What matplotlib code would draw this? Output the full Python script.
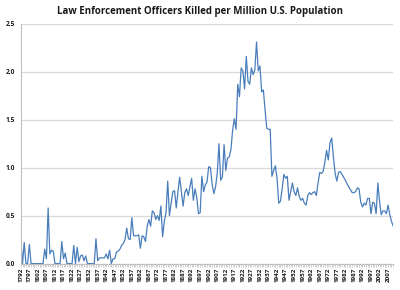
#!/usr/bin/env python3
"""Law enforcement officers killed per million U.S. population, 1792-2010."""

import matplotlib

matplotlib.use("Agg")
import matplotlib.pyplot as plt
from matplotlib.ticker import FormatStrFormatter

TITLE = "Law Enforcement Officers Killed per Million U.S. Population"

first_year = 1792
last_year = 2010

# values, one per year starting 1792
rate_1792_1835 = [
    0.24, 0.00, 0.22, 0.00, 0.00, 0.20, 0.00, 0.00, 0.00, 0.00,
    0.00, 0.00, 0.00, 0.00, 0.15, 0.05, 0.58, 0.10, 0.14, 0.13,
    0.00, 0.00, 0.00, 0.00, 0.23, 0.05, 0.11, 0.00, 0.00, 0.00,
    0.00, 0.19, 0.00, 0.17, 0.02, 0.08, 0.09, 0.03, 0.08, 0.00,
    0.00, 0.00, 0.00, 0.00,
]
rate_1836_1895 = [
    0.26, 0.03, 0.06, 0.06, 0.06, 0.06, 0.10, 0.05, 0.14, 0.00,
    0.05, 0.05, 0.12, 0.13, 0.15, 0.19, 0.21, 0.25, 0.37, 0.26,
    0.25, 0.48, 0.29, 0.29, 0.29, 0.30, 0.16, 0.29, 0.28, 0.23,
    0.39, 0.46, 0.39, 0.55, 0.53, 0.46, 0.50, 0.45, 0.60, 0.28,
    0.44, 0.53, 0.86, 0.50, 0.63, 0.75, 0.76, 0.58, 0.75, 0.90,
    0.75, 0.60, 0.74, 0.78, 0.71, 0.80, 0.89, 0.66, 0.78, 0.69,
]
rate_1896_1950 = [
    0.52, 0.53, 0.91, 0.75, 0.82, 0.85, 1.01, 1.00, 0.83, 0.73,
    0.80, 0.94, 1.25, 0.87, 0.90, 1.24, 0.97, 1.10, 1.11, 1.19,
    1.39, 1.51, 1.40, 1.87, 1.74, 2.04, 2.01, 1.82, 2.16, 1.90,
    1.87, 2.04, 1.97, 2.02, 2.31, 2.01, 2.06, 1.79, 1.81, 1.60,
    1.41, 1.40, 1.40, 0.91, 0.97, 1.02, 0.89, 0.63, 0.65, 0.78,
    0.93, 0.89, 0.91, 0.66, 0.75,
]
rate_1951_2010 = [
    0.84, 0.75, 0.71, 0.79, 0.70, 0.66, 0.68, 0.63, 0.61, 0.71,
    0.74, 0.72, 0.74, 0.75, 0.71, 0.84, 0.95, 0.94, 0.96, 1.06,
    1.18, 1.08, 1.26, 1.31, 1.11, 0.94, 0.86, 0.95, 0.96, 0.93,
    0.90, 0.87, 0.83, 0.80, 0.77, 0.74, 0.74, 0.75, 0.79, 0.78,
    0.64, 0.59, 0.63, 0.61, 0.68, 0.68, 0.52, 0.64, 0.63, 0.52,
    0.84, 0.65, 0.51, 0.55, 0.55, 0.52, 0.61, 0.51, 0.44, 0.39,
]

years = list(range(first_year, last_year + 1))
rate = rate_1792_1835 + rate_1836_1895 + rate_1896_1950 + rate_1951_2010
label_years = years[::5]

LINE_COLOR = "#4a7ebb"
GRID_COLOR = "#d9d9d9"
AXIS_COLOR = "#bfbfbf"


def main() -> int:
    plt.rcParams["font.family"] = ["Open Sans", "DejaVu Sans"]

    fig = plt.figure(figsize=(4.0, 2.9), dpi=100)
    ax = fig.add_axes([0.052, 0.091, 0.931, 0.827])

    ax.plot(years, rate, color=LINE_COLOR, linewidth=0.9, solid_joinstyle="round")

    ax.set_xlim(first_year, last_year)
    ax.set_ylim(0, 2.5)
    ax.set_yticks([0.0, 0.5, 1.0, 1.5, 2.0, 2.5])
    ax.yaxis.set_major_formatter(FormatStrFormatter("%.1f"))
    ax.set_xticks(label_years)
    ax.set_xticklabels([str(y) for y in label_years], rotation=90)
    ax.set_xticks(years, minor=True)

    ax.grid(axis="y", color=GRID_COLOR, linewidth=0.9)
    ax.set_axisbelow(True)
    for side in ("top", "right"):
        ax.spines[side].set_visible(False)
    ax.spines["left"].set_color(AXIS_COLOR)
    ax.spines["bottom"].set_color(AXIS_COLOR)
    ax.spines["left"].set_linewidth(0.8)
    ax.spines["bottom"].set_linewidth(0.8)

    ax.tick_params(axis="y", length=0, pad=4, labelsize=4.8)
    ax.tick_params(axis="x", which="both", direction="out", length=2,
                   width=0.5, color=AXIS_COLOR, pad=1, labelsize=4.5)
    for lbl in ax.get_xticklabels() + ax.get_yticklabels():
        lbl.set_fontweight("bold")
        lbl.set_color("#1a1a1a")

    fig.text(0.5, 0.962, TITLE, ha="center", va="center",
             fontsize=7.0, fontweight="bold", color="#1a1a1a")

    fig.savefig("out.png", dpi=100)
    plt.close(fig)
    return 0


if __name__ == "__main__":
    raise SystemExit(main())
